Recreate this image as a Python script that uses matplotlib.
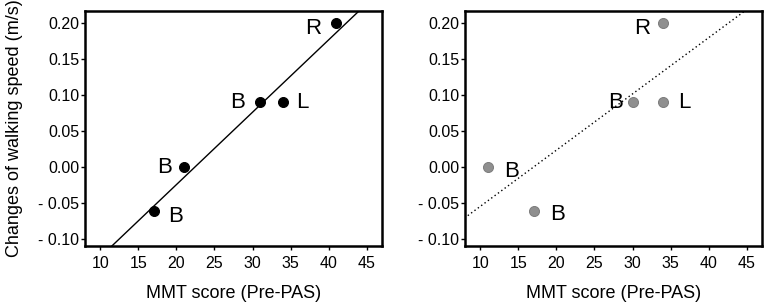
import matplotlib
matplotlib.use("Agg")
import matplotlib.pyplot as plt
import numpy as np

plt.rcParams['font.family'] = ['Liberation Sans', 'DejaVu Sans']

# left panel
mmt_left = [17, 21, 31, 34, 41]
speed_left = [-0.06, 0.00, 0.09, 0.09, 0.20]
labels_left = ['B', 'B', 'B', 'L', 'R']

# right panel
mmt_right = [11, 17, 30, 34, 34]
speed_right = [0.00, -0.06, 0.09, 0.09, 0.20]
labels_right = ['B', 'B', 'B', 'L', 'R']

xticks = [10, 15, 20, 25, 30, 35, 40, 45]
yticks = [-0.10, -0.05, 0.00, 0.05, 0.10, 0.15, 0.20]
ytick_labels = ['- 0.10', '- 0.05', '0.00', '0.05', '0.10', '0.15', '0.20']

# label offsets in points (dx, dy)
offs_left = [(16, -4), (-14, 0), (-16, 0), (14, 0), (-17, -4)]
offs_right = [(17, -3), (17, -3), (-12, 0), (15, 0), (-15, -4)]

fig = plt.figure(figsize=(7.67, 3.07), dpi=100)
ax1 = fig.add_axes([85/767, 1-246/307, 297/767, 235/307])
ax2 = fig.add_axes([465/767, 1-246/307, 297/767, 235/307])


def setup(ax):
    ax.set_xlim(8, 47)
    ax.set_ylim(-0.109, 0.216)
    ax.set_xticks(xticks)
    ax.set_yticks(yticks)
    ax.set_yticklabels(ytick_labels)
    ax.tick_params(labelsize=11.5, length=3, width=1, pad=1)
    ax.tick_params(axis='x', pad=4)
    for s in ax.spines.values():
        s.set_linewidth(1.8)
    ax.set_xlabel('MMT score (Pre-PAS)', fontsize=13, labelpad=10)


def draw(ax, xs, ys, labels, offs, color, edge, ls):
    xs = np.array(xs)
    ys = np.array(ys)
    k, b = np.polyfit(xs, ys, 1)
    xx = np.linspace(0, 60, 200)
    ax.plot(xx, k * xx + b, color='black', lw=1, ls=ls, zorder=1)
    ax.scatter(xs, ys, s=52, c=color, edgecolors=edge, linewidths=0.7, zorder=3)
    for x, y, t, o in zip(xs, ys, labels, offs):
        ax.annotate(t, (x, y), xytext=o, textcoords='offset points',
                    ha='center', va='center', fontsize=16)


setup(ax1)
setup(ax2)
draw(ax1, mmt_left, speed_left, labels_left, offs_left, 'black', 'black', '-')
draw(ax2, mmt_right, speed_right, labels_right, offs_right, '#8f8f8f', '#7c7c7c', (0, (1, 2)))
ax1.set_ylabel('Changes of walking speed (m/s)', fontsize=13, labelpad=11)

fig.savefig('out.png', dpi=100)
